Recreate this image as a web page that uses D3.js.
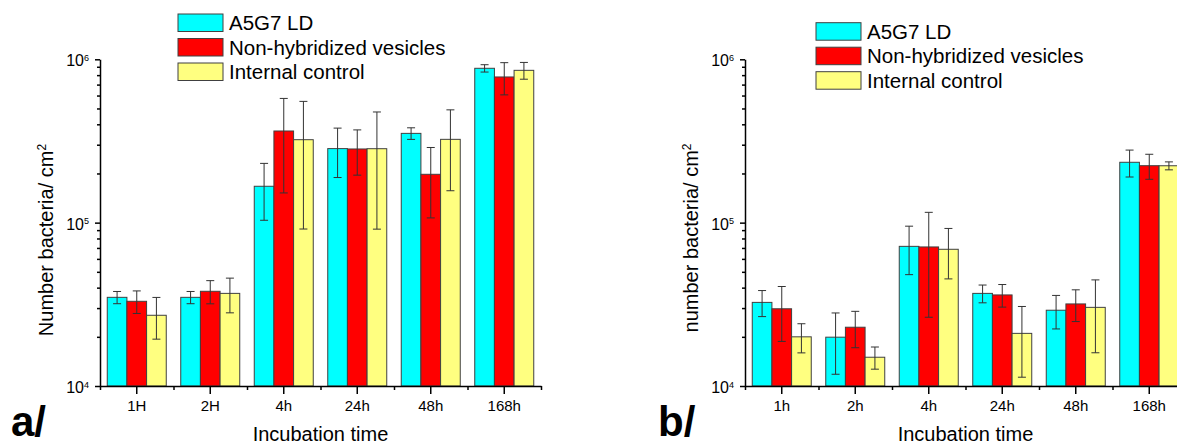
<!DOCTYPE html>
<html>
<head>
<meta charset="utf-8">
<script src="https://cdn.jsdelivr.net/npm/d3@7"></script>
<style>
  body { margin: 0; background: #fff; }
  svg { display: block; font-family: Arial, "Liberation Sans", sans-serif; }
  .axis path, .axis line { stroke: #000; stroke-width: 1.5; }
  .axis text { fill: #000; }
</style>
</head>
<body>
<script>
// Series names and colours
const seriesNames = ["A5G7 LD", "Non-hybridized vesicles", "Internal control"];
const seriesColors = ["#00ffff", "#ff0000", "#ffff80"];

// Panel a values (bacteria / cm2) and standard deviations
const categoriesA = ["1H", "2H", "4h", "24h", "48h", "168h"];
const a5g7A = [34900, 34900, 167000, 284000, 352000, 881000];
const a5g7ErrA = [3000, 3000, 63600, 95100, 28700, 45500];
const nonHybA = [33000, 38000, 364000, 282500, 197700, 779600];
const nonHybErrA = [5200, 6150, 212000, 87150, 90800, 174000];
const controlA = [27100, 36900, 322000, 283600, 323600, 856000];
const controlErrA = [7750, 8850, 230600, 192350, 166800, 100750];

// Panel b values (bacteria / cm2) and standard deviations
const categoriesB = ["1h", "2h", "4h", "24h", "48h", "168h"];
const a5g7B = [32500, 19900, 71600, 36900, 29100, 234200];
const a5g7ErrB = [5900, 8100, 23550, 4600, 6750, 43900];
const nonHybB = [29700, 22900, 71000, 36100, 31800, 223200];
const nonHybErrB = [10950, 5750, 44650, 5700, 7000, 38950];
const controlB = [20000, 15000, 68700, 21000, 30300, 223000];
const controlErrB = [4050, 2325, 23450, 9680, 14325, 12500];

// Log axis tick values
const majorTicks = [1e4, 1e5, 1e6];
const minorTicks = [2, 3, 4, 5, 6, 7, 8, 9].flatMap(m => [m * 1e4, m * 1e5]);

const width = 1177;
const height = 444;

const svg = d3.select("body")
    .append("svg")
    .attr("width", width)
    .attr("height", height);

// Shared log scale for both panels
const yScale = d3.scaleLog()
    .domain([1e4, 1e6])
    .range([386, 59.3]);

function drawPanel(p) {
    const g = svg.append("g");

    const xScale = d3.scaleBand()
        .domain(p.categories)
        .range([p.x0, p.x1]);

    const groupWidth = 59;
    const inner = d3.scaleBand()
        .domain(d3.range(seriesNames.length))
        .range([(xScale.bandwidth() - groupWidth) / 2, (xScale.bandwidth() + groupWidth) / 2]);

    // Build rows from the series arrays
    const rows = [];
    p.series.forEach((s, si) => {
        p.categories.forEach((c, ci) => {
            rows.push({ cat: c, si: si, value: s.values[ci], err: s.errs[ci] });
        });
    });

    // Bars
    g.selectAll("rect.bar")
        .data(rows)
        .join("rect")
        .attr("class", "bar")
        .attr("x", d => xScale(d.cat) + inner(d.si))
        .attr("y", d => yScale(d.value))
        .attr("width", inner.bandwidth())
        .attr("height", d => yScale(1e4) - yScale(d.value))
        .attr("fill", d => seriesColors[d.si])
        .attr("stroke", "#404040")
        .attr("stroke-width", 1);

    // Error bars
    const cap = 4;
    const eb = g.selectAll("g.err")
        .data(rows)
        .join("g")
        .attr("class", "err")
        .attr("stroke", "#333")
        .attr("stroke-width", 1);

    eb.append("line")
        .attr("x1", d => xScale(d.cat) + inner(d.si) + inner.bandwidth() / 2)
        .attr("x2", d => xScale(d.cat) + inner(d.si) + inner.bandwidth() / 2)
        .attr("y1", d => yScale(d.value + d.err))
        .attr("y2", d => yScale(Math.max(d.value - d.err, 1e4)));

    [1, -1].forEach(sign => {
        eb.append("line")
            .attr("x1", d => xScale(d.cat) + inner(d.si) + inner.bandwidth() / 2 - cap)
            .attr("x2", d => xScale(d.cat) + inner(d.si) + inner.bandwidth() / 2 + cap)
            .attr("y1", d => yScale(d.value + sign * d.err))
            .attr("y2", d => yScale(d.value + sign * d.err));
    });

    // X axis: long ticks at group centres, short ticks at boundaries
    g.append("g")
        .attr("class", "axis")
        .attr("transform", `translate(0, ${yScale(1e4)})`)
        .call(d3.axisBottom(xScale).tickSize(8).tickSizeOuter(0).tickPadding(6))
        .call(ax => ax.selectAll("text").attr("font-size", 15).attr("font-family", "Arial, 'Liberation Sans', sans-serif"));

    const edge = d3.scaleLinear().domain([0, p.categories.length]).range([p.x0, p.x1]);
    g.append("g")
        .attr("class", "axis")
        .attr("transform", `translate(0, ${yScale(1e4)})`)
        .call(d3.axisBottom(edge).tickValues(d3.range(p.categories.length + 1)).tickSize(4).tickFormat(""))
        .call(ax => ax.select(".domain").remove());

    // Y axis: minor ticks and labelled decades
    g.append("g")
        .attr("class", "axis")
        .attr("transform", `translate(${p.x0}, 0)`)
        .call(d3.axisLeft(yScale).tickValues(minorTicks).tickSize(3).tickFormat(""))
        .call(ax => ax.select(".domain").remove());

    const yAxis = g.append("g")
        .attr("class", "axis")
        .attr("transform", `translate(${p.x0}, 0)`)
        .call(d3.axisLeft(yScale).tickValues(majorTicks).tickSize(5).tickSizeOuter(0).tickFormat(""));

    yAxis.selectAll(".tick")
        .append("text")
        .attr("x", -11)
        .attr("dy", "0.4em")
        .attr("text-anchor", "end")
        .attr("font-size", 16)
        .attr("font-family", "Arial, 'Liberation Sans', sans-serif")
        .call(t => t.append("tspan").text("10"))
        .call(t => t.append("tspan")
            .attr("dy", "-0.6em")
            .attr("font-size", 9)
            .text(d => Math.round(Math.log10(d))));

    // Axis titles
    g.append("text")
        .attr("transform", `translate(${p.x0 - 47}, ${p.titleY}) rotate(-90)`)
        .attr("text-anchor", "middle")
        .attr("font-size", 20)
        .call(t => t.append("tspan").text(p.yTitle))
        .call(t => t.append("tspan").attr("dy", "-0.55em").attr("font-size", 12).text("2"));

    g.append("text")
        .attr("x", (p.x0 + p.x1) / 2)
        .attr("y", 441)
        .attr("text-anchor", "middle")
        .attr("font-size", 20)
        .text("Incubation time");

    // Panel letter
    g.append("text")
        .attr("x", p.letterX)
        .attr("y", 436)
        .attr("font-size", 42)
        .attr("font-weight", "bold")
        .text(p.letter);

    // Legend
    const legend = g.append("g")
        .attr("transform", `translate(${p.legendX}, ${p.legendY})`);

    const items = legend.selectAll("g")
        .data(seriesNames)
        .join("g")
        .attr("transform", (d, i) => `translate(0, ${i * 24.5})`);

    items.append("rect")
        .attr("width", 45)
        .attr("height", 17.5)
        .attr("fill", (d, i) => seriesColors[i])
        .attr("stroke", "#404040")
        .attr("stroke-width", 1);

    items.append("text")
        .attr("x", 51)
        .attr("y", 16)
        .attr("font-size", 20.5)
        .text(d => d);
}

drawPanel({
    categories: categoriesA,
    series: [
        { values: a5g7A, errs: a5g7ErrA },
        { values: nonHybA, errs: nonHybErrA },
        { values: controlA, errs: controlErrA }
    ],
    x0: 100, x1: 541,
    yTitle: "Number bacteria/ cm",
    titleY: 240,
    letter: "a/", letterX: 11,
    legendX: 178, legendY: 14
});

drawPanel({
    categories: categoriesB,
    series: [
        { values: a5g7B, errs: a5g7ErrB },
        { values: nonHybB, errs: nonHybErrB },
        { values: controlB, errs: controlErrB }
    ],
    x0: 745, x1: 1186,
    yTitle: "number bacteria/ cm",
    titleY: 238,
    letter: "b/", letterX: 658,
    legendX: 816, legendY: 22.7
});
</script>
</body>
</html>
